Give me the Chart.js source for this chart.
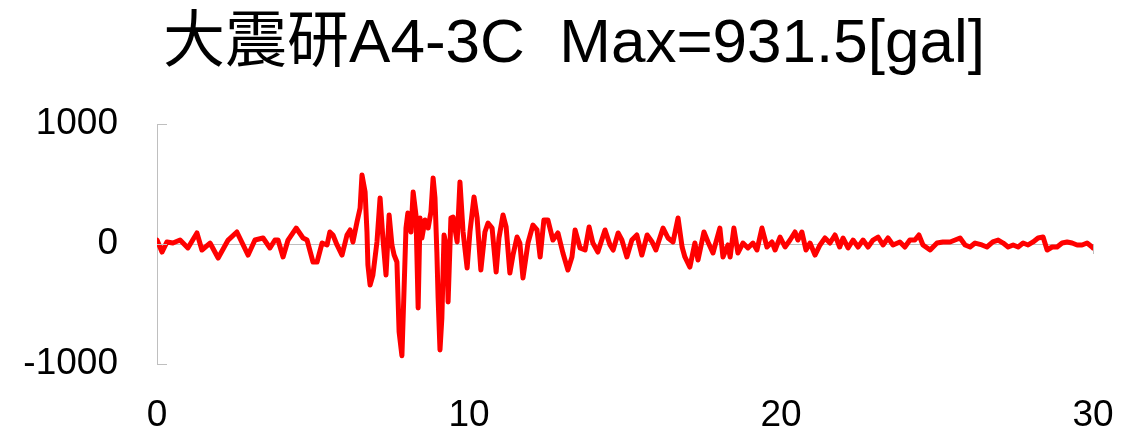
<!DOCTYPE html>
<html lang="ja">
<head>
<meta charset="UTF-8" />
<title>大震研A4-3C 加速度波形</title>
<script src="https://cdn.jsdelivr.net/npm/chart.js"></script>
<style>
  html, body { margin: 0; padding: 0; background: #fff; }
  #wrap { width: 1121px; height: 432px; position: relative; }
</style>
</head>
<body>
<div id="wrap"><canvas id="wave"></canvas></div>
<script>
// 時刻 [s]
const times = [
  0, 0.16, 0.32, 0.51, 0.74, 0.99, 1.28, 1.44, 1.70, 1.96, 2.28, 2.56, 2.92, 3.14, 3.40, 3.62, 3.78, 3.88,
  4.04, 4.20, 4.46, 4.68, 4.81, 5.00, 5.13, 5.29, 5.45, 5.54, 5.64, 5.77, 5.93, 6.09, 6.19, 6.28, 6.41, 6.51,
  6.57, 6.67, 6.73, 6.76, 6.83, 6.92, 7.05, 7.15, 7.24, 7.34, 7.44, 7.53, 7.60, 7.69, 7.76, 7.85, 7.92, 7.98,
  8.04, 8.14, 8.21, 8.30, 8.37, 8.43, 8.49, 8.59, 8.69, 8.78, 8.85, 8.91, 8.97, 9.01, 9.07, 9.13, 9.20, 9.29,
  9.33, 9.42, 9.49, 9.62, 9.71, 9.81, 9.94, 10.03, 10.16, 10.26, 10.38, 10.51, 10.61, 10.74, 10.87, 10.96,
  11.09, 11.19, 11.31, 11.41, 11.54, 11.63, 11.73, 11.89, 12.05, 12.18, 12.28, 12.40, 12.53, 12.69, 12.85,
  13.01, 13.17, 13.30, 13.40, 13.56, 13.72, 13.85, 13.97, 14.13, 14.36, 14.52, 14.62, 14.78, 14.90, 15.06,
  15.22, 15.38, 15.54, 15.71, 15.87, 15.99, 16.22, 16.38, 16.54, 16.70, 16.83, 16.92, 17.08, 17.24, 17.34,
  17.53, 17.66, 17.82, 18.04, 18.14, 18.30, 18.37, 18.49, 18.62, 18.78, 18.94, 19.10, 19.23, 19.39, 19.55,
  19.71, 19.81, 19.97, 20.13, 20.29, 20.45, 20.54, 20.67, 20.80, 20.93, 21.09, 21.25, 21.41, 21.57, 21.73,
  21.88, 21.99, 22.15, 22.31, 22.47, 22.63, 22.79, 22.95, 23.11, 23.27, 23.43, 23.59, 23.81, 23.97, 24.13,
  24.29, 24.42, 24.55, 24.78, 25.00, 25.19, 25.42, 25.58, 25.74, 25.90, 26.06, 26.22, 26.44, 26.60, 26.79,
  26.96, 27.12, 27.28, 27.44, 27.60, 27.76, 27.92, 28.08, 28.24, 28.40, 28.53, 28.69, 28.85, 29.01, 29.17,
  29.33, 29.49, 29.65, 29.81, 29.97, 30
];

// 加速度 [gal]
const accel = [
  33, -67, 17, 8, 33, -33, 92, -50, 8, -117, 33, 100, -92, 33, 50, -33, 33, 33,
  -108, 33, 133, 50, 33, -150, -150, 8, -8, 100, 75, -8, -92, 75, 117, 17, 183, 300,
  575, 433, 100, -175, -342, -258, 17, 383, 50, -258, 242, -8, -92, -150, -733, -931.5, -367, 133,
  258, 100, 433, 242, -533, 217, 50, 200, 133, 267, 550, 383, -67, -450, -883, -617, 75, -33,
  -483, 217, 225, 17, 517, 100, -200, 100, 392, 217, -217, 100, 175, 133, -233, 50,
  242, 142, -242, -92, 58, 8, -283, 8, 158, 117, -108, 200, 200, 33, 92,
  -75, -217, -108, 117, -33, -50, 142, 8, -67, 117, -8, -50, 92, 33, -108,
  33, 75, -92, 75, 17, -50, 133, 50, 17, 217, -25, -108, -192, 8, -133,
  100, 17, -75, 133, -108, -8, -108, 133, -75, 8, -33, 8, -50, 133, -25,
  17, -50, 58, -25, 33, 100, 33, 100, -50, 8, -92, -8, 50, 8, 75,
  -25, 50, -33, 33, -25, 33, -25, 33, 58, -8, 50, -8, 17, -25, 33,
  33, 75, -8, -50, 8, 17, 17, 33, 50, -8, -25, 8, -8, -25, 17,
  33, 8, -25, -8, -25, 8, -8, 17, 50, 58, -50, -25, -25, 8, 17,
  8, -8, -8, 8, -25, -33
];

const yTicks = [-1000, 0, 1000];
const xTicks = [0, 10, 20, 30];

const titleText = "大震研A4-3C  Max=931.5[gal]";
const fontFamily = '"Liberation Sans", Arial, "Noto Sans CJK JP", sans-serif';
const axisGray = "#bfbfbf";

// タイトル（キャンバス中央より少し右寄せ）
const titleAt = {
  id: "titleAt",
  afterDraw(chart) {
    const { ctx } = chart;
    ctx.save();
    ctx.fillStyle = "#000";
    ctx.font = "62px " + fontFamily;
    ctx.textAlign = "center";
    ctx.textBaseline = "alphabetic";
    ctx.fillText(titleText, 574, 62);
    ctx.restore();
  }
};

// 軸の短い目盛り（y は内向き、x はゼロ線から下向き）
const tickMarks = {
  id: "tickMarks",
  afterDraw(chart) {
    const { ctx, scales: { x, y } } = chart;
    ctx.save();
    ctx.strokeStyle = axisGray;
    ctx.lineWidth = 1;
    ctx.beginPath();
    yTicks.forEach(v => {
      const py = Math.round(y.getPixelForValue(v)) + 0.5;
      ctx.moveTo(x.left, py);
      ctx.lineTo(x.left + 10, py);
    });
    const zy = y.getPixelForValue(0);
    [xTicks[xTicks.length - 1]].forEach(v => {
      const px = Math.round(x.getPixelForValue(v)) + 0.5;
      ctx.moveTo(px, zy);
      ctx.lineTo(px, zy + 10);
    });
    ctx.stroke();
    ctx.restore();
  }
};

new Chart(document.getElementById("wave"), {
  type: "line",
  data: {
    datasets: [{
      data: times.map((t, i) => ({ x: t, y: accel[i] })),
      borderColor: "#ff0000",
      borderWidth: 5,
      borderJoinStyle: "round",
      borderCapStyle: "round",
      pointRadius: 0,
      tension: 0,
      fill: false
    }]
  },
  options: {
    responsive: true,
    maintainAspectRatio: false,
    animation: false,
    events: [],
    layout: { padding: { left: 0, right: 28, top: 124, bottom: 0 } },
    plugins: {
      legend: { display: false },
      tooltip: { enabled: false },
      title: { display: false }
    },
    scales: {
      x: {
        type: "linear",
        min: 0,
        max: 30,
        afterBuildTicks: s => { s.ticks = xTicks.map(v => ({ value: v })); },
        afterFit: s => { s.height = 68; s.paddingLeft = 0; s.paddingRight = 0; },
        grid: { display: false },
        border: { display: false },
        ticks: {
          color: "#000",
          font: { family: fontFamily, size: 37 },
          padding: 22,
          maxRotation: 0,
          callback: v => String(v)
        }
      },
      y: {
        min: -1000,
        max: 1000,
        afterBuildTicks: s => { s.ticks = yTicks.map(v => ({ value: v })); },
        afterFit: s => { s.width = 157; s.paddingTop = 0; s.paddingBottom = 0; },
        grid: {
          drawTicks: false,
          color: c => (c.tick && c.tick.value === 0 ? axisGray : "rgba(0,0,0,0)"),
          lineWidth: 1
        },
        border: { display: true, color: axisGray, width: 1 },
        ticks: {
          color: "#000",
          font: { family: fontFamily, size: 37 },
          padding: 39,
          callback: v => String(v)
        }
      }
    }
  },
  plugins: [tickMarks, titleAt]
});
</script>
</body>
</html>
